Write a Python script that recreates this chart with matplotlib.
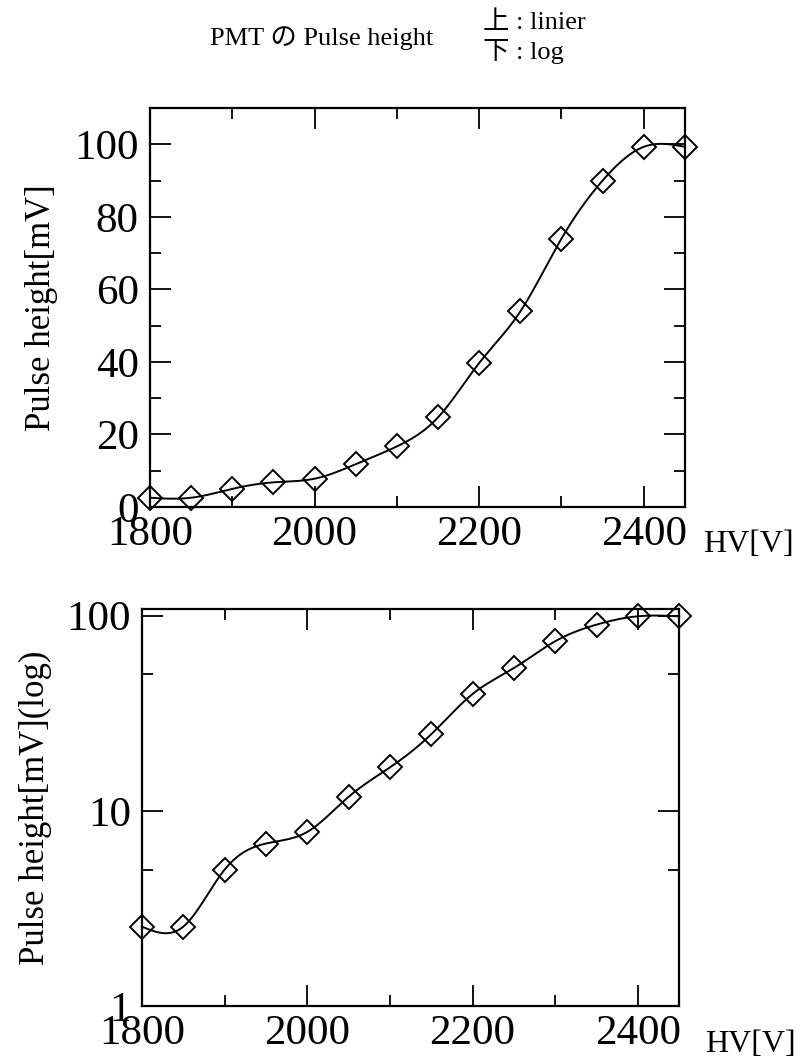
import numpy as np
import matplotlib
matplotlib.use("Agg")
import matplotlib.pyplot as plt
from matplotlib.ticker import MultipleLocator, FixedLocator, NullFormatter, FixedFormatter

# HV setting [V] and measured PMT pulse height [mV]
hv = [1800, 1850, 1900, 1950, 2000, 2050, 2100, 2150, 2200, 2250, 2300, 2350, 2400, 2450]
pulse_mv = [2.55, 2.55, 5.0, 6.8, 7.8, 11.8, 16.7, 24.7, 39.7, 53.9, 74.0, 90.0, 99.3, 99.3]

x_major = [1800, 2000, 2200, 2400]
lin_yticks = [0, 20, 40, 60, 80, 100]
log_yticks = [1, 10, 100]
log_yminor = [5, 50]

SERIF = ['Liberation Serif', 'Noto Sans CJK JP']
plt.rcParams['font.family'] = SERIF


def natural_spline(x, y, n=500):
    """Natural cubic spline through the points (smooth curve like the original)."""
    x = np.asarray(x, float)
    y = np.asarray(y, float)
    h = np.diff(x)
    m = len(x)
    A = np.zeros((m, m))
    r = np.zeros(m)
    A[0, 0] = A[-1, -1] = 1.0
    for i in range(1, m - 1):
        A[i, i - 1] = h[i - 1]
        A[i, i] = 2 * (h[i - 1] + h[i])
        A[i, i + 1] = h[i]
        r[i] = 6 * ((y[i + 1] - y[i]) / h[i] - (y[i] - y[i - 1]) / h[i - 1])
    M = np.linalg.solve(A, r)
    xs = np.linspace(x[0], x[-1], n)
    idx = np.clip(np.searchsorted(x, xs) - 1, 0, m - 2)
    x0, x1 = x[idx], x[idx + 1]
    hh = x1 - x0
    a = (x1 - xs) / hh
    b = (xs - x0) / hh
    ys = a * y[idx] + b * y[idx + 1] + ((a**3 - a) * M[idx] + (b**3 - b) * M[idx + 1]) * hh**2 / 6
    return xs, ys


def style_axes(ax):
    ax.tick_params(which='both', direction='in', top=True, right=True,
                   labelsize=31, width=1.3, colors='black')
    ax.tick_params(which='major', length=15)
    ax.tick_params(which='minor', length=8)
    ax.tick_params(axis='x', pad=6)
    ax.tick_params(axis='y', pad=8)
    for s in ax.spines.values():
        s.set_linewidth(1.6)
    ax.set_xlim(1800, 2450)
    ax.xaxis.set_major_locator(FixedLocator(x_major))
    ax.xaxis.set_minor_locator(MultipleLocator(100))


def draw_points(ax):
    ax.plot(hv, pulse_mv, linestyle='none', marker='D', ms=12, mfc='none',
            mec='black', mew=1.4, clip_on=False, zorder=4)


fig = plt.figure(figsize=(8.02, 10.64), dpi=100)

# ---- top: linear ----
ax1 = fig.add_axes([0.187, 0.5235, 0.667, 0.375])
xs, ys = natural_spline(hv, pulse_mv)
ax1.plot(xs, ys, color='black', lw=1.4, clip_on=False, zorder=3)
draw_points(ax1)
style_axes(ax1)
ax1.set_ylim(0, 110)
ax1.yaxis.set_major_locator(FixedLocator(lin_yticks))
ax1.yaxis.set_minor_locator(MultipleLocator(10))
ax1.set_ylabel('Pulse height[mV]', fontsize=25, labelpad=12)
ax1.text(1.034, -0.095, 'HV[V]', transform=ax1.transAxes, fontsize=23,
         ha='left', va='center')

# ---- bottom: log ----
ax2 = fig.add_axes([0.177, 0.0545, 0.670, 0.373])
xs, ls = natural_spline(hv, np.log10(pulse_mv))
ax2.plot(xs, 10**ls, color='black', lw=1.4, clip_on=False, zorder=3)
draw_points(ax2)
ax2.set_yscale('log')
style_axes(ax2)
ax2.set_ylim(1, 108)
ax2.yaxis.set_major_locator(FixedLocator(log_yticks))
ax2.yaxis.set_major_formatter(FixedFormatter([str(v) for v in log_yticks]))
ax2.yaxis.set_minor_locator(FixedLocator(log_yminor))
ax2.yaxis.set_minor_formatter(NullFormatter())
ax2.set_ylabel('Pulse height[mV](log)', fontsize=25, labelpad=10)
ax2.text(1.048, -0.096, 'HV[V]', transform=ax2.transAxes, fontsize=23,
         ha='left', va='center')

# ---- header texts ----
fig.text(210 / 802, 1 - 38 / 1064, 'PMT の Pulse height', fontsize=19,
         ha='left', va='center', family=SERIF)
fig.text(483 / 802, 1 - 23 / 1064, '上 : linier', fontsize=19,
         ha='left', va='center', family=SERIF)
fig.text(483 / 802, 1 - 51 / 1064, '下 : log', fontsize=19,
         ha='left', va='center', family=SERIF)

fig.savefig('out.png', dpi=100)
